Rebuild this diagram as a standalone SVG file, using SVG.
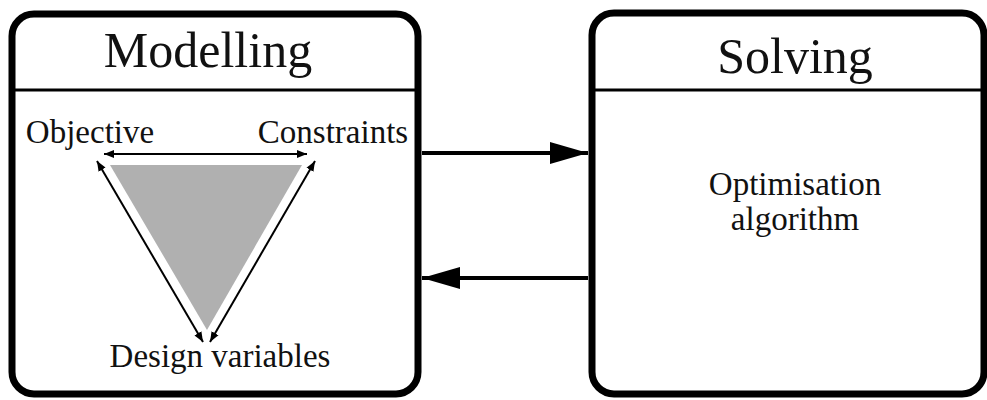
<svg xmlns="http://www.w3.org/2000/svg" width="987" height="400" viewBox="0 0 987 400">
<style>
.box{fill:#fff;stroke:#000;stroke-width:7}
.div{stroke:#000;stroke-width:3}
.t{font-family:"Liberation Serif","Times New Roman",serif;fill:#111;text-anchor:middle}
.big{font-size:50px}
.sm{font-size:33px}
.thin{stroke:#000;stroke-width:2;fill:none}
.conn{stroke:#000;stroke-width:4;fill:none}
</style>
<defs>
<marker id="sa" viewBox="0 0 10 10" refX="10" refY="5" markerWidth="5" markerHeight="5" orient="auto-start-reverse" markerUnits="strokeWidth"><path d="M0,1 L10,5 L0,9 Z" fill="#000"/></marker>
<marker id="ba" viewBox="0 0 38 22" refX="38" refY="11" markerWidth="38" markerHeight="22" orient="auto" markerUnits="userSpaceOnUse"><path d="M0,0 L38,11 L0,22 Z" fill="#000"/></marker>
</defs>
<g id="modelling">
<rect class="box" x="12" y="14" width="406" height="380" rx="22"/>
<line class="div" x1="12" y1="90" x2="418" y2="90"/>
<text class="t big" x="208" y="67">Modelling</text>
<polygon points="110,165 302,165 207,330" fill="#b0b0b0"/>
<text class="t sm" x="90" y="143">Objective</text>
<text class="t sm" x="333" y="143">Constraints</text>
<text class="t sm" x="220" y="367">Design variables</text>
<line class="thin" x1="104" y1="154" x2="307" y2="154" marker-start="url(#sa)" marker-end="url(#sa)"/>
<line class="thin" x1="97" y1="161" x2="203" y2="342" marker-start="url(#sa)" marker-end="url(#sa)"/>
<line class="thin" x1="315" y1="161" x2="210" y2="342" marker-start="url(#sa)" marker-end="url(#sa)"/>
</g>
<g id="solving">
<rect class="box" x="592" y="13" width="392" height="381" rx="22"/>
<line class="div" x1="592" y1="90" x2="984" y2="90"/>
<text class="t big" x="795" y="73">Solving</text>
<text class="t sm" x="795" y="195">Optimisation</text>
<text class="t sm" x="795" y="230">algorithm</text>
</g>
<g id="connectors">
<line class="conn" x1="422" y1="153" x2="588" y2="153" marker-end="url(#ba)"/>
<line class="conn" x1="588" y1="278" x2="422" y2="278" marker-end="url(#ba)"/>
</g>
</svg>
